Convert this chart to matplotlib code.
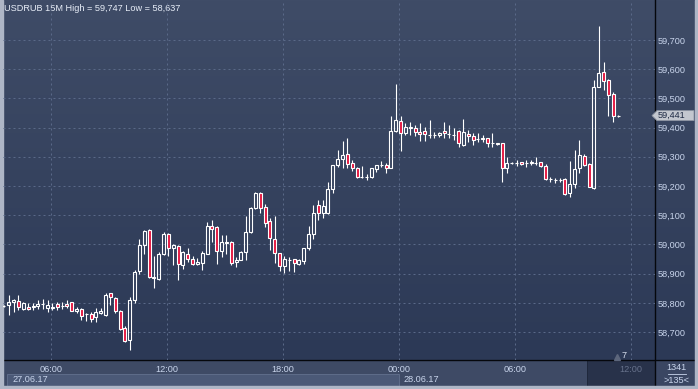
import numpy as np
import matplotlib.pyplot as plt
from matplotlib.patches import Rectangle, Polygon

plt.rcParams['font.family'] = ['Liberation Sans', 'DejaVu Sans']

# USDRUB, 15 minute bars from 27.06.17 03:30
opens = [58789, 58793, 58802, 58805, 58778, 58785, 58787, 58789, 58795, 58781,
         58781, 58795, 58790, 58795, 58802, 58773, 58778, 58762, 58762, 58750,
         58764, 58758, 58833, 58816, 58772, 58713, 58673, 58808, 58908, 58997,
         59048, 58887, 58882, 58966, 59035, 58989, 58995, 58931, 58968, 58951,
         58933, 58936, 58968, 59062, 59060, 58977, 59008, 59008, 58939, 58945,
         58974, 59043, 59126, 59175, 59127, 59079, 59020, 58969, 58926, 58948,
         58951, 58934, 58943, 58986, 59037, 59134, 59106, 59106, 59188, 59271,
         59294, 59309, 59277, 59263, 59231, 59232, 59231, 59257, 59271, 59271,
         59263, 59388, 59421, 59382, 59400, 59397, 59386, 59388, 59375, 59374,
         59374, 59388, 59377, 59375, 59388, 59342, 59378, 59371, 59362, 59361,
         59363, 59346, 59346, 59346, 59260, 59277, 59278, 59282, 59277, 59277,
         59280, 59281, 59268, 59224, 59222, 59220, 59223, 59175, 59206, 59260,
         59302, 59275, 59194, 59540, 59589, 59563, 59514, 59441]
highs = [58791, 58827, 58812, 58827, 58804, 58801, 58801, 58808, 58812, 58808,
         58801, 58804, 58804, 58810, 58804, 58787, 58781, 58764, 58768, 58781,
         58781, 58833, 58835, 58821, 58776, 58721, 58821, 58912, 59020, 59048,
         59052, 58960, 58974, 59043, 59039, 59002, 58997, 58977, 58987, 58959,
         58954, 58979, 59077, 59085, 59062, 59031, 59031, 59012, 58956, 58976,
         59097, 59128, 59180, 59178, 59138, 59089, 59097, 58971, 58959, 58957,
         58951, 58951, 58986, 59062, 59134, 59151, 59151, 59214, 59271, 59323,
         59354, 59366, 59289, 59266, 59268, 59241, 59263, 59271, 59285, 59277,
         59439, 59549, 59439, 59414, 59420, 59409, 59414, 59403, 59426, 59386,
         59386, 59420, 59409, 59397, 59391, 59431, 59391, 59382, 59380, 59374,
         59366, 59380, 59348, 59348, 59298, 59283, 59289, 59283, 59289, 59289,
         59298, 59283, 59274, 59230, 59228, 59226, 59226, 59285, 59323, 59357,
         59311, 59280, 59564, 59747, 59626, 59566, 59522, 59443]
lows = [58787, 58758, 58770, 58776, 58776, 58776, 58776, 58778, 58778, 58770,
        58776, 58776, 58778, 58781, 58773, 58764, 58741, 58739, 58733, 58733,
        58762, 58755, 58793, 58764, 58707, 58667, 58637, 58800, 58899, 58968,
        58885, 58851, 58878, 58962, 58960, 58928, 58879, 58916, 58939, 58928,
        58928, 58913, 58966, 59008, 58933, 58956, 58966, 58931, 58924, 58945,
        58945, 59040, 59120, 59108, 59060, 58980, 58937, 58909, 58902, 58909,
        58906, 58929, 58934, 58982, 59017, 59085, 59092, 59103, 59177, 59266,
        59263, 59263, 59252, 59229, 59229, 59222, 59229, 59249, 59266, 59245,
        59263, 59385, 59321, 59374, 59374, 59371, 59354, 59355, 59363, 59363,
        59369, 59366, 59363, 59359, 59334, 59337, 59351, 59340, 59351, 59351,
        59332, 59334, 59340, 59214, 59245, 59274, 59268, 59272, 59266, 59272,
        59272, 59264, 59220, 59215, 59211, 59215, 59169, 59161, 59192, 59245,
        59268, 59196, 59190, 59538, 59529, 59440, 59419, 59437]
closes = [58789, 58802, 58808, 58784, 58798, 58779, 58788, 58796, 58795, 58793,
          58787, 58787, 58790, 58789, 58773, 58779, 58756, 58762, 58745, 58770,
          58773, 58828, 58821, 58772, 58711, 58669, 58808, 58906, 58997, 59046,
          58887, 58885, 58966, 59035, 58989, 58999, 58933, 58974, 58951, 58933,
          58941, 58970, 59062, 59054, 58977, 59008, 59005, 58936, 58945, 58974,
          59043, 59126, 59175, 59123, 59074, 59023, 58969, 58926, 58951, 58948,
          58937, 58948, 58986, 59037, 59106, 59108, 59131, 59188, 59271, 59291,
          59306, 59274, 59263, 59231, 59232, 59231, 59260, 59271, 59272, 59260,
          59388, 59426, 59382, 59401, 59401, 59386, 59378, 59378, 59374, 59376,
          59380, 59380, 59377, 59374, 59346, 59386, 59371, 59359, 59361, 59366,
          59346, 59346, 59345, 59260, 59277, 59278, 59280, 59275, 59278, 59282,
          59280, 59269, 59224, 59223, 59220, 59221, 59173, 59206, 59257, 59306,
          59272, 59198, 59540, 59587, 59558, 59511, 59440, 59441]

start_hour = 3.5      # hours after 27.06.17 00:00
bar_hours = 0.25
hour_ticks = [6, 12, 18, 24, 30, 36]
hour_labels = ["06:00", "12:00", "18:00", "00:00", "06:00", "12:00"]
price_ticks = list(range(58700, 59701, 100))
date_labels = ["27.06.17", "28.06.17"]
title = "USDRUB 15M High = 59,747 Low = 58,637"

W, H = 698, 389
fig = plt.figure(figsize=(W / 100, H / 100), dpi=100)

# pixel-space layer for panels and decorations
bg = fig.add_axes([0, 0, 1, 1])
bg.set_xlim(0, W)
bg.set_ylim(0, H)
bg.axis('off')

grad = np.linspace(0, 1, 256)[:, None]
top = np.array([63, 76, 103]) / 255
bot = np.array([44, 57, 86]) / 255
img = top[None, None, :] * (1 - grad[..., None]) + bot[None, None, :] * grad[..., None]
bg.imshow(img, extent=[3, 695, 29, 389], aspect='auto', zorder=0)

bg.add_patch(Rectangle((3, 3), 652, 26, color='#3e4a65', zorder=1))
bg.add_patch(Rectangle((655, 3), 40, 26, color='#3a4662', zorder=1))
bg.add_patch(Rectangle((7, 3), 392, 12, facecolor='#4b5977', edgecolor='#5e6c89', lw=0.7, zorder=2))
bg.add_patch(Rectangle((587, 3), 68, 26, facecolor='#28324a', edgecolor='#1f283c', lw=0.7, zorder=2))
bg.plot([655, 655], [3, 389], color='#05070c', lw=1, zorder=3)
bg.plot([3, 695], [29, 29], color='#05070c', lw=1, zorder=3)
frame = '#aeb6c6'
bg.add_patch(Rectangle((0, 0), 3, H, color=frame, zorder=4))
bg.add_patch(Rectangle((0, 0), W, 3, color=frame, zorder=4))
bg.add_patch(Rectangle((695, 0), 3, H, color=frame, zorder=4))

ax = fig.add_axes([3 / W, 29 / H, 652 / W, 360 / H])
ax.patch.set_alpha(0)
for s in ax.spines.values():
    s.set_visible(False)
ax.set_xlim(3.534, 37.24)
ax.set_ylim(58604.2, 59836.8)

grid_c = '#5a6988'
for h in hour_ticks:
    ax.axvline(h, color=grid_c, lw=0.72, dashes=(2, 3), zorder=1)
for p in price_ticks:
    ax.axhline(p, color=grid_c, lw=0.72, dashes=(2, 3), zorder=1)

xs = [start_hour + bar_hours * k + 0.085 for k in range(len(opens))]
body_w = 0.155
up_col = '#ffffff'
dn_col = '#e4163f'
for x, o, h, l, c in zip(xs, opens, highs, lows, closes):
    top_b, bot_b = max(o, c), min(o, c)
    ax.vlines(x, top_b, h, color=up_col, lw=0.8, zorder=2)
    ax.vlines(x, l, bot_b, color=up_col, lw=0.8, zorder=2)
    ax.bar(x, top_b - bot_b, width=body_w, bottom=bot_b,
           facecolor=(dn_col if c < o else 'none'), edgecolor=up_col, lw=0.8, zorder=3)

lab_c = '#c9d5ec'
ax.yaxis.tick_right()
ax.set_yticks(price_ticks)
ax.set_yticklabels([f"{p:,}" for p in price_ticks])
ax.tick_params(axis='y', length=0, pad=2.2, labelsize=6.6, labelcolor=lab_c)
ax.set_xticks(hour_ticks)
ax.set_xticklabels(hour_labels)
ax.tick_params(axis='x', length=0, pad=3.5, labelsize=6.6, labelcolor=lab_c)
ax.get_xticklabels()[-1].set_color('#66718b')

bg.text(4, 381, title, color='#e8eef8', fontsize=6.6, va='center', ha='left', zorder=5)
bg.text(12, 9.5, date_labels[0], color=lab_c, fontsize=6.6, va='center', ha='left', zorder=5)
bg.text(403, 9.5, date_labels[1], color=lab_c, fontsize=6.6, va='center', ha='left', zorder=5)

# last price tag
ytag = ax.transData.transform((0, closes[-1]))[1]
bg.add_patch(Polygon([(652, ytag), (657, ytag + 5), (694, ytag + 5), (694, ytag - 5), (657, ytag - 5)],
                     closed=True, facecolor='#c3c7cf', edgecolor='#8d94a2', lw=0.6, zorder=6))
bg.text(658, ytag, f"{closes[-1]:,}", color='#1e2a44', fontsize=6.6, va='center', ha='left', zorder=7)

bg.plot([617], [32.5], marker='^', ms=4, color='#5c667c', zorder=5)
bg.text(624, 33.5, "7", color='#d8e0ee', fontsize=6.6, va='center', ha='center', zorder=5)

bg.text(676, 21, "1341", color=lab_c, fontsize=6.6, va='center', ha='center', zorder=5)
bg.plot([668, 686], [15, 15], color=lab_c, lw=0.6, zorder=5)
bg.text(676, 8.5, ">135<", color=lab_c, fontsize=6.6, va='center', ha='center', zorder=5)

fig.savefig('out.png', dpi=100)
